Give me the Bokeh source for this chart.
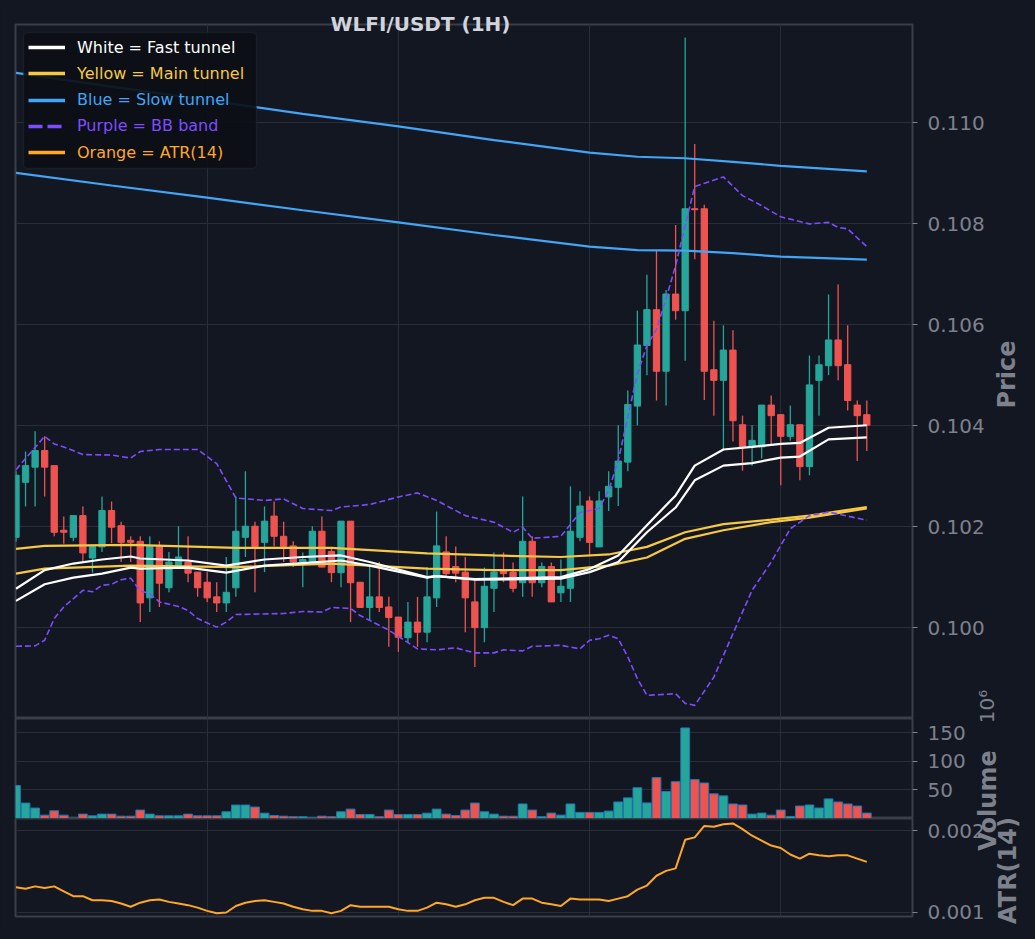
import math
from bokeh.plotting import figure
from bokeh.layouts import column
from bokeh.models import (ColumnDataSource, FixedTicker, Range1d, Grid, Legend, LegendItem,
                          Label, BoxAnnotation, PrintfTickFormatter)
from bokeh.embed import file_html
from bokeh.resources import INLINE

# ---------------- data ----------------
candle_open = [0.10179, 0.10288, 0.10318, 0.10351, 0.10321, 0.10193, 0.10179, 0.10222, 0.10138, 0.10160,
               0.10232, 0.10202, 0.10173, 0.10171, 0.10059, 0.10161, 0.10079, 0.10123, 0.10130, 0.10110,
               0.10090, 0.10061, 0.10049, 0.10079, 0.10179, 0.10201, 0.10169, 0.10221, 0.10181, 0.10162,
               0.10130, 0.10130, 0.10191, 0.10151, 0.10109, 0.10211, 0.10090, 0.10040, 0.10061, 0.10041,
               0.10021, 0.09980, 0.10011, 0.09991, 0.10059, 0.10150, 0.10121, 0.10110, 0.10051, 0.10000,
               0.10078, 0.10112, 0.10110, 0.10089, 0.10171, 0.10089, 0.10121, 0.10069, 0.10078, 0.10179,
               0.10251, 0.10160, 0.10259, 0.10278, 0.10328, 0.10439, 0.10559, 0.10630, 0.10508, 0.10661,
               0.10628, 0.10830, 0.10830, 0.10511, 0.10490, 0.10550, 0.10402, 0.10358, 0.10358, 0.10441,
               0.10422, 0.10379, 0.10402, 0.10319, 0.10490, 0.10519, 0.10570, 0.10521, 0.10441, 0.10422]
candle_high = [0.10310, 0.10349, 0.10389, 0.10379, 0.10321, 0.10220, 0.10222, 0.10240, 0.10161, 0.10260,
               0.10250, 0.10210, 0.10181, 0.10181, 0.10181, 0.10171, 0.10150, 0.10201, 0.10181, 0.10110,
               0.10110, 0.10090, 0.10140, 0.10260, 0.10310, 0.10210, 0.10240, 0.10250, 0.10210, 0.10171,
               0.10149, 0.10201, 0.10220, 0.10160, 0.10211, 0.10211, 0.10090, 0.10120, 0.10130, 0.10061,
               0.10021, 0.10051, 0.10061, 0.10120, 0.10230, 0.10181, 0.10161, 0.10140, 0.10094, 0.10119,
               0.10149, 0.10149, 0.10129, 0.10260, 0.10181, 0.10129, 0.10129, 0.10135, 0.10280, 0.10270,
               0.10260, 0.10270, 0.10310, 0.10401, 0.10470, 0.10628, 0.10699, 0.10746, 0.10669, 0.10798,
               0.11169, 0.10958, 0.10838, 0.10608, 0.10599, 0.10589, 0.10420, 0.10401, 0.10441, 0.10460,
               0.10422, 0.10440, 0.10402, 0.10539, 0.10539, 0.10660, 0.10680, 0.10599, 0.10450, 0.10450]
candle_low = [0.10170, 0.10240, 0.10240, 0.10260, 0.10181, 0.10166, 0.10171, 0.10130, 0.10109, 0.10150,
              0.10167, 0.10130, 0.10130, 0.10011, 0.10031, 0.10041, 0.10070, 0.10121, 0.10090, 0.10061,
              0.10051, 0.10031, 0.10031, 0.10061, 0.10140, 0.10070, 0.10110, 0.10161, 0.10130, 0.10120,
              0.10080, 0.10130, 0.10120, 0.10090, 0.10080, 0.10011, 0.10040, 0.10014, 0.10031, 0.09962,
              0.09952, 0.09971, 0.09962, 0.09971, 0.10041, 0.10103, 0.10090, 0.09991, 0.09922, 0.09971,
              0.10031, 0.10090, 0.10070, 0.10061, 0.10061, 0.10080, 0.10051, 0.10051, 0.10051, 0.10171,
              0.10143, 0.10160, 0.10231, 0.10241, 0.10310, 0.10401, 0.10500, 0.10450, 0.10440, 0.10610,
              0.10529, 0.10730, 0.10451, 0.10420, 0.10354, 0.10369, 0.10311, 0.10321, 0.10335, 0.10361,
              0.10282, 0.10371, 0.10292, 0.10302, 0.10420, 0.10500, 0.10490, 0.10430, 0.10330, 0.10350]
candle_close = [0.10302, 0.10321, 0.10351, 0.10318, 0.10189, 0.10189, 0.10222, 0.10148, 0.10161, 0.10232,
                0.10199, 0.10169, 0.10169, 0.10049, 0.10161, 0.10088, 0.10130, 0.10140, 0.10108, 0.10079,
                0.10059, 0.10049, 0.10070, 0.10191, 0.10201, 0.10161, 0.10211, 0.10181, 0.10161, 0.10130,
                0.10135, 0.10191, 0.10120, 0.10109, 0.10211, 0.10089, 0.10040, 0.10061, 0.10040, 0.10020,
                0.09981, 0.10011, 0.09991, 0.10061, 0.10162, 0.10107, 0.10108, 0.10059, 0.10000, 0.10082,
                0.10110, 0.10107, 0.10078, 0.10171, 0.10089, 0.10121, 0.10051, 0.10082, 0.10191, 0.10241,
                0.10169, 0.10251, 0.10280, 0.10330, 0.10442, 0.10560, 0.10630, 0.10508, 0.10661, 0.10628,
                0.10830, 0.10828, 0.10508, 0.10490, 0.10550, 0.10410, 0.10358, 0.10371, 0.10441, 0.10420,
                0.10379, 0.10402, 0.10319, 0.10481, 0.10521, 0.10570, 0.10519, 0.10450, 0.10420, 0.10401]
volume_millions = [57.8, 27.1, 18.3, 5.9, 13.6, 5.9, 0.5, 7.7, 4.7, 7.7,
                   7.7, 4.1, 4.1, 14.8, 7.7, 4.7, 4.7, 4.7, 7.7, 4.7,
                   4.7, 4.7, 11.8, 23.6, 23.6, 20.1, 9.4, 5.3, 4.1, 3.0,
                   3.0, 1.2, 4.1, 3.0, 11.8, 16.5, 7.1, 7.1, 3.0, 14.8,
                   7.1, 7.1, 7.1, 9.4, 16.5, 7.7, 5.3, 14.8, 27.1, 11.8,
                   7.7, 4.1, 4.0, 25.5, 14.8, 3.0, 9.5, 5.9, 25.5, 10.7,
                   10.7, 10.7, 13.0, 29.0, 36.2, 54.0, 27.3, 71.8, 47.4, 64.6,
                   158.9, 68.2, 62.3, 43.3, 39.7, 25.5, 23.7, 7.7, 9.5, 5.9,
                   14.8, 3.6, 21.9, 23.7, 18.4, 34.4, 29.0, 25.5, 21.9, 9.5]
atr14 = [0.00131, 0.00129, 0.00132, 0.00130, 0.00132, 0.00126, 0.00120, 0.00120, 0.00115, 0.00115,
         0.00114, 0.00111, 0.00107, 0.00112, 0.00115, 0.00116, 0.00113, 0.00111, 0.00109, 0.00106,
         0.00102, 0.00099, 0.00100, 0.00108, 0.00112, 0.00114, 0.00115, 0.00113, 0.00111, 0.00107,
         0.00104, 0.00102, 0.00102, 0.00099, 0.00102, 0.00109, 0.00107, 0.00107, 0.00107, 0.00107,
         0.00104, 0.00102, 0.00102, 0.00106, 0.00112, 0.00110, 0.00107, 0.00110, 0.00115, 0.00118,
         0.00118, 0.00113, 0.00109, 0.00117, 0.00117, 0.00112, 0.00110, 0.00108, 0.00117, 0.00116,
         0.00116, 0.00116, 0.00114, 0.00117, 0.00120, 0.00128, 0.00133, 0.00145, 0.00151, 0.00154,
         0.00189, 0.00192, 0.00206, 0.00205, 0.00208, 0.00209, 0.00202, 0.00194, 0.00188, 0.00182,
         0.00179, 0.00171, 0.00166, 0.00172, 0.00170, 0.00169, 0.00170, 0.00170, 0.00166, 0.00162]

fast_idx = [0, 3, 6, 9, 12, 13, 18, 22, 26, 30, 34, 37, 43, 44, 48, 57, 60, 63, 66, 69, 71, 74, 77, 80, 82, 85, 89]
fast_upper = [0.10077, 0.10114, 0.10127, 0.10135, 0.10141, 0.10137, 0.10133, 0.10123, 0.10135, 0.10140,
              0.10143, 0.10130, 0.10100, 0.10102, 0.10096, 0.10100, 0.10116, 0.10143, 0.10203, 0.10262,
              0.10321, 0.10353, 0.10358, 0.10364, 0.10366, 0.10396, 0.10401]
fast_lower = [0.10053, 0.10086, 0.10099, 0.10107, 0.10119, 0.10117, 0.10119, 0.10109, 0.10123, 0.10128,
              0.10133, 0.10123, 0.10099, 0.10102, 0.10095, 0.10097, 0.10110, 0.10130, 0.10189, 0.10238,
              0.10292, 0.10321, 0.10326, 0.10337, 0.10339, 0.10373, 0.10377]
main_idx = [0, 3, 12, 23, 33, 43, 50, 57, 62, 66, 70, 74, 79, 83, 89]
main_upper = [0.10156, 0.10162, 0.10164, 0.10158, 0.10158, 0.10147, 0.10143, 0.10140, 0.10145, 0.10160,
              0.10189, 0.10205, 0.10214, 0.10222, 0.10239]
main_lower = [0.10107, 0.10117, 0.10123, 0.10120, 0.10127, 0.10117, 0.10114, 0.10114, 0.10123, 0.10139,
              0.10176, 0.10193, 0.10209, 0.10218, 0.10236]
slow_idx = [0, 10, 20, 30, 40, 50, 60, 65, 70, 75, 80, 89]
slow_upper = [0.11099, 0.11072, 0.11045, 0.11018, 0.10993, 0.10966, 0.10941, 0.10933, 0.10930, 0.10923, 0.10915, 0.10904]
slow_lower = [0.10901, 0.10876, 0.10852, 0.10827, 0.10803, 0.10778, 0.10755, 0.10748, 0.10747, 0.10742, 0.10735, 0.10729]
bb_upper_idx = [0, 3, 4, 5, 7, 10, 12, 13, 15, 19, 21, 23, 26, 28, 30, 33, 34, 37, 40, 42,
                44, 47, 50, 52, 53, 54, 57, 59, 61, 62, 63, 64, 65, 66, 67, 68, 69, 70, 71, 74,
                76, 78, 80, 83, 85, 86, 87, 89]
bb_upper = [0.10313, 0.10379, 0.10364, 0.10358, 0.10343, 0.10342, 0.10336, 0.10349, 0.10353, 0.10353,
            0.10325, 0.10257, 0.10252, 0.10255, 0.10236, 0.10232, 0.10239, 0.10244, 0.10259, 0.10267,
            0.10252, 0.10222, 0.10209, 0.10189, 0.10199, 0.10177, 0.10181, 0.10228, 0.10236, 0.10272,
            0.10331, 0.10417, 0.10503, 0.10559, 0.10591, 0.10652, 0.10717, 0.10797, 0.10874, 0.10893,
            0.10856, 0.10836, 0.10814, 0.10800, 0.10803, 0.10793, 0.10790, 0.10755]
bb_lower_idx = [0, 2, 3, 4, 5, 7, 8, 9, 10, 11, 12, 13, 14, 15, 17, 18, 19, 21, 22, 23,
                28, 30, 32, 33, 35, 36, 39, 42, 44, 46, 48, 50, 51, 53, 54, 57, 59, 60, 61, 62,
                63, 64, 65, 66, 69, 70, 71, 73, 75, 77, 79, 81, 83, 85, 89]
bb_lower = [0.09963, 0.09964, 0.09975, 0.10018, 0.10041, 0.10074, 0.10071, 0.10084, 0.10086, 0.10095,
            0.10098, 0.10073, 0.10067, 0.10051, 0.10042, 0.10034, 0.10018, 0.10001, 0.10011, 0.10026,
            0.10028, 0.10032, 0.10031, 0.10040, 0.10038, 0.10024, 0.09995, 0.09958, 0.09956, 0.09960,
            0.09950, 0.09950, 0.09956, 0.09954, 0.09963, 0.09965, 0.09958, 0.09975, 0.09978, 0.09985,
            0.09978, 0.09942, 0.09899, 0.09866, 0.09869, 0.09850, 0.09846, 0.09902, 0.09988, 0.10074,
            0.10130, 0.10196, 0.10222, 0.10229, 0.10213]

price_ticks = [0.100, 0.102, 0.104, 0.106, 0.108, 0.110]
volume_ticks = [50, 100, 150]
atr_ticks = [0.001, 0.002]
hour_grid = [20, 40, 60, 80]

title_text = "WLFI/USDT (1H)"
axis_titles = ["Price", "Volume", "ATR(14)"]
volume_scale_text = "10\u2076"
legend_labels = ["White = Fast tunnel", "Yellow = Main tunnel", "Blue = Slow tunnel",
                 "Purple = BB band", "Orange = ATR(14)"]

# ---------------- styling ----------------
BG = "#131722"
GRID = "#292d38"
SPINE = "#3a3e49"
TICK_TXT = "#7d818c"
LABEL_TXT = "#7d818c"
UP = "#26a69a"
DOWN = "#ef5350"
WHITE = "#ffffff"
YELLOW = "#f7c844"
BLUE = "#42a5f5"
PURPLE = "#7c4dff"
ORANGE = "#ffa726"
VOL_EDGE = "#1f77b4"
FONT = "DejaVu Sans"

n = len(candle_open)
idx = list(range(n))
is_up = [c >= o for o, c in zip(candle_open, candle_close)]
colors = [UP if u else DOWN for u in is_up]
src = ColumnDataSource(dict(
    x=idx, open=candle_open, high=candle_high, low=candle_low, close=candle_close,
    top=[max(o, c) for o, c in zip(candle_open, candle_close)],
    bottom=[min(o, c) for o, c in zip(candle_open, candle_close)],
    color=colors, vol=volume_millions, atr=atr14,
))

x_range = Range1d(-0.05, 93.78)
W = 1027
H_PRICE, H_VOL, H_ATR = 718, 100, 113
H_TOTAL = H_PRICE + H_VOL + H_ATR


def make_fig(height, y_range, top, bottom):
    f = figure(width=W, height=height, x_range=x_range, y_range=y_range,
               x_axis_location=None, y_axis_location="right",
               output_backend="svg", toolbar_location=None,
               background_fill_color=BG, border_fill_color=BG,
               min_border=0, min_border_left=15, min_border_right=115,
               min_border_top=top, min_border_bottom=bottom)
    f.outline_line_color = SPINE
    f.outline_line_width = 2
    # drop the default vertical grid; use one at every 20 candles
    f.center = [r for r in f.center if not (isinstance(r, Grid) and r.dimension == 0)]
    f.add_layout(Grid(dimension=0, ticker=FixedTicker(ticks=hour_grid),
                      grid_line_color=GRID, grid_line_width=1))
    return f


def style_axis(f, ticks, fmt):
    f.ygrid.ticker = FixedTicker(ticks=ticks)
    f.ygrid.grid_line_color = GRID
    f.ygrid.grid_line_width = 1
    ax = f.yaxis[0]
    ax.ticker = FixedTicker(ticks=ticks)
    ax.formatter = PrintfTickFormatter(format=fmt)
    ax.major_label_text_font = FONT
    ax.major_label_text_font_size = "20px"
    ax.major_label_text_color = TICK_TXT
    ax.major_label_standoff = 10
    ax.major_tick_line_color = TICK_TXT
    ax.major_tick_out = 5
    ax.major_tick_in = 0
    ax.minor_tick_line_color = None
    ax.axis_line_color = None


# ---------------- price panel ----------------
p = make_fig(H_PRICE, Range1d(0.09820, 0.11195), 24, 0)
style_axis(p, price_ticks, "%.3f")

p.segment(x0="x", y0="low", x1="x", y1="high", color="color", line_width=1.3, source=src)
p.vbar(x="x", width=0.66, top="top", bottom="bottom", fill_color="color",
       line_color="color", line_width=1, source=src)

p.line(slow_idx, slow_upper, line_color=BLUE, line_width=2.2)
p.line(slow_idx, slow_lower, line_color=BLUE, line_width=2.2)
p.line(main_idx, main_upper, line_color=YELLOW, line_width=2.2)
p.line(main_idx, main_lower, line_color=YELLOW, line_width=2.2)
p.line(fast_idx, fast_upper, line_color=WHITE, line_width=2.2)
p.line(fast_idx, fast_lower, line_color=WHITE, line_width=2.2)
p.line(bb_upper_idx, bb_upper, line_color=PURPLE, line_width=1.6, line_dash="6 3")
p.line(bb_lower_idx, bb_lower, line_color=PURPLE, line_width=1.6, line_dash="6 3")

# legend: background box + one legend per row (each row has its own text colour)
p.add_layout(BoxAnnotation(left=8, right=241, top=686, bottom=550,
                           left_units="screen", right_units="screen",
                           top_units="screen", bottom_units="screen",
                           fill_color="#0c0f16", fill_alpha=0.92,
                           line_color="#30343e", line_width=1.5, border_radius=4))
legend_colors = [WHITE, YELLOW, BLUE, PURPLE, ORANGE]
legend_dashes = ["solid", "solid", "solid", "14 5", "solid"]
legend_seed = [(fast_idx, fast_upper), (main_idx, main_upper), (slow_idx, slow_upper),
               (bb_upper_idx, bb_upper), (idx, atr14)]
for k, (txt, col, dash, (sx, sy)) in enumerate(zip(legend_labels, legend_colors,
                                                     legend_dashes, legend_seed)):
    # a one-point line draws nothing in the plot; it only gives the legend its swatch style
    r = p.line(x=sx[:1], y=sy[:1], line_color=col, line_width=3.3, line_dash=dash)
    lg = Legend(items=[LegendItem(label=txt, renderers=[r])],
                location=(13, 658 - 26.25 * k), orientation="vertical",
                padding=0, margin=0, spacing=0,
                glyph_width=37, glyph_height=26, label_height=26, label_width=175,
                label_standoff=12, label_text_font=FONT, label_text_font_size="16px",
                label_text_color=col, background_fill_alpha=0, border_line_alpha=0)
    p.add_layout(lg)

# ---------------- volume panel ----------------
pv = make_fig(H_VOL, Range1d(0, 175.4), 0, 0)
style_axis(pv, volume_ticks, "%d")
pv.vbar(x="x", width=0.92, top="vol", bottom=0, fill_color="color",
        line_color=VOL_EDGE, line_width=1, source=src)

# ---------------- ATR panel ----------------
pa = make_fig(H_ATR, Range1d(0.000951, 0.002151), 0, 15)
style_axis(pa, atr_ticks, "%.3f")
pa.line(x="x", y="atr", line_color=ORANGE, line_width=2, source=src)

# ---------------- transparent text layer over the whole chart ----------------
# (title and side titles overlap panel edges, as in the reference)
ov = figure(width=W, height=H_TOTAL, x_range=Range1d(0, W), y_range=Range1d(0, H_TOTAL),
            x_axis_location=None, y_axis_location=None, output_backend="svg",
            toolbar_location=None, min_border=0,
            background_fill_alpha=0, border_fill_alpha=0, outline_line_color=None)
ov.frame_align = False
ov.center = []
ov.margin = (-H_TOTAL, 0, 0, 0)


def ov_text(x, y_from_top, text, size, bold=True, angle=0.0, color=LABEL_TXT):
    ov.add_layout(Label(x=x, y=H_TOTAL - y_from_top, x_units="screen", y_units="screen",
                        text=text, text_font=FONT, text_font_size=size,
                        text_font_style="bold" if bold else "normal",
                        text_color=color, text_align="center", text_baseline="middle",
                        angle=angle))


ov_text(420, 23.5, title_text, "20px", color="#d1d4dc")
ov_text(1006.7, 374, axis_titles[0], "24px", angle=math.pi / 2)
ov_text(987.5, 800, axis_titles[1], "24px", angle=math.pi / 2)
ov_text(1007, 870, axis_titles[2], "24px", angle=math.pi / 2)
ov_text(986, 706, volume_scale_text, "20px", bold=False, angle=math.pi / 2, color=TICK_TXT)

layout = column(p, pv, pa, ov, spacing=0)

TEMPLATE = """{% block preamble %}<style>html, body { background: #131722; }</style>{% endblock %}"""
open("out.html", "w").write(file_html(layout, INLINE, title=title_text, template=TEMPLATE))
